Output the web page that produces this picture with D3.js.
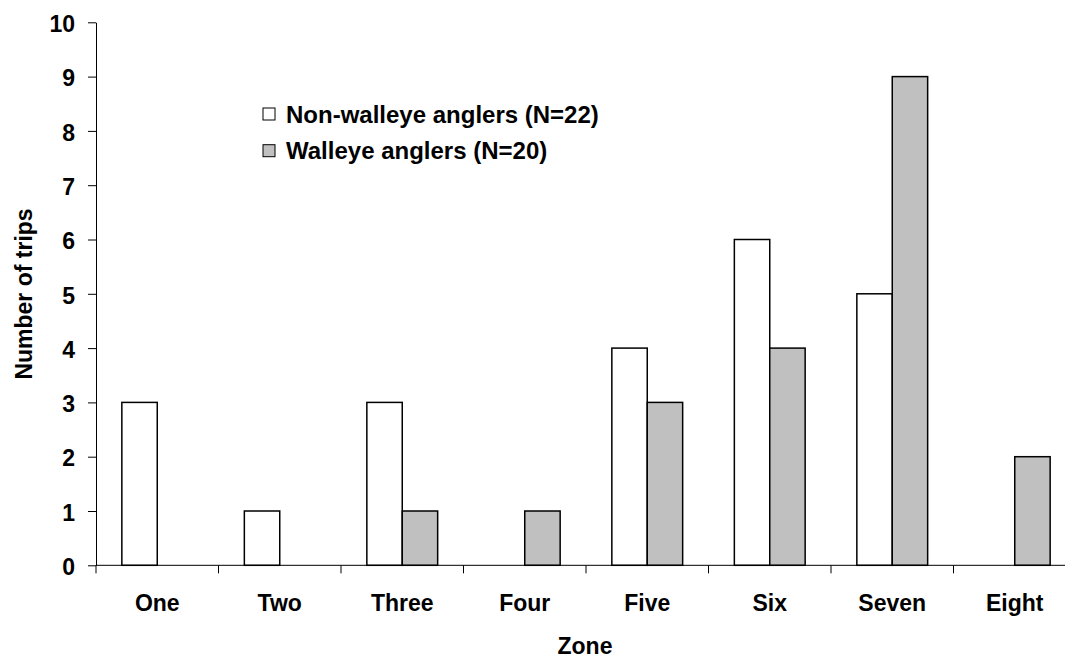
<!DOCTYPE html>
<html>
<head>
<meta charset="utf-8">
<script src="https://cdn.jsdelivr.net/npm/d3@7"></script>
<style>
	body { margin: 0; background: #fff; }
	text { font-family: "Liberation Sans", Arial, sans-serif; font-weight: bold; fill: #000; }
</style>
</head>
<body>
<svg id="chart" width="1065" height="659"></svg>
<script>
var zones = ["One", "Two", "Three", "Four", "Five", "Six", "Seven", "Eight"];
var series = ["Non-walleye anglers (N=22)", "Walleye anglers (N=20)"];
var nonWalleye = [3, 1, 3, 0, 4, 6, 5, 0];
var walleye = [0, 0, 1, 1, 3, 4, 9, 2];
var yTicks = [0, 1, 2, 3, 4, 5, 6, 7, 8, 9, 10];

var colors = ["#ffffff", "#c0c0c0"];
var values = [nonWalleye, walleye];

var svg = d3.select("#chart");

// plot area edges (the x axis runs past the right edge of the picture)
var plotLeft = 96, plotRight = 1076, plotTop = 22.3, plotBottom = 565.3;

var x = d3.scaleBand()
	.domain(zones)
	.range([plotLeft, plotRight]);

var x1 = d3.scaleBand()
	.domain(d3.range(series.length))
	.range([0, x.bandwidth()])
	.paddingOuter(0.73);

var y = d3.scaleLinear()
	.domain([0, 10])
	.range([plotBottom, plotTop]);

// y axis
var yAxis = svg.append("g")
	.attr("transform", "translate(" + plotLeft + ",0)")
	.call(d3.axisLeft(y).tickValues(yTicks).tickSize(8).tickSizeOuter(0).tickPadding(13));
yAxis.select(".domain").attr("stroke", "#000");
yAxis.selectAll(".tick line").attr("stroke", "#000");
yAxis.selectAll(".tick text")
	.attr("font-size", 23)
	.attr("font-family", "Liberation Sans, Arial, sans-serif")
	.attr("font-weight", "bold")
	.attr("dy", "0.4em");

// bars
var rows = zones.map(function(z, i) {
	return values.map(function(v, s) {
		return { zone: z, s: s, value: v[i] };
	});
});

svg.append("g").selectAll("g")
	.data(rows)
	.enter().append("g")
	.attr("transform", function(d) {
		return "translate(" + x(d[0].zone) + ",0)";
	})
	.selectAll("rect")
	.data(function(d) { return d.filter(function(b) { return b.value > 0; }); })
	.enter().append("rect")
	.attr("x", function(d) { return x1(d.s); })
	.attr("width", x1.bandwidth())
	.attr("y", function(d) { return y(d.value); })
	.attr("height", function(d) { return y(0) - y(d.value); })
	.attr("fill", function(d) { return colors[d.s]; })
	.attr("stroke", "#000")
	.attr("stroke-width", 1.5);

// x axis line and boundary ticks
svg.append("line")
	.attr("x1", plotLeft).attr("x2", 1065)
	.attr("y1", y(0)).attr("y2", y(0))
	.attr("stroke", "#000");

svg.append("g").selectAll("line")
	.data(zones)
	.enter().append("line")
	.attr("x1", function(d) { return x(d); })
	.attr("x2", function(d) { return x(d); })
	.attr("y1", y(0))
	.attr("y2", y(0) + 8)
	.attr("stroke", "#000");

svg.append("g").selectAll("text")
	.data(zones)
	.enter().append("text")
	.attr("x", function(d) { return x(d) + x.bandwidth() / 2; })
	.attr("y", 611)
	.attr("text-anchor", "middle")
	.attr("font-size", 23)
	.text(function(d) { return d; });

// axis titles
svg.append("text")
	.attr("x", 585)
	.attr("y", 654)
	.attr("text-anchor", "middle")
	.attr("font-size", 23)
	.text("Zone");

svg.append("text")
	.attr("transform", "translate(32,294) rotate(-90)")
	.attr("text-anchor", "middle")
	.attr("font-size", 23)
	.text("Number of trips");

// legend
var legend = svg.append("g").selectAll("g")
	.data(series)
	.enter().append("g")
	.attr("transform", function(d, i) { return "translate(263," + (108 + i * 36.7) + ")"; });

legend.append("rect")
	.attr("width", 12)
	.attr("height", 12)
	.attr("fill", function(d, i) { return colors[i]; })
	.attr("stroke", "#000")
	.attr("stroke-width", 1);

legend.append("text")
	.attr("x", 23)
	.attr("y", 14.5)
	.attr("font-size", 24)
	.text(function(d) { return d; });
</script>
</body>
</html>
